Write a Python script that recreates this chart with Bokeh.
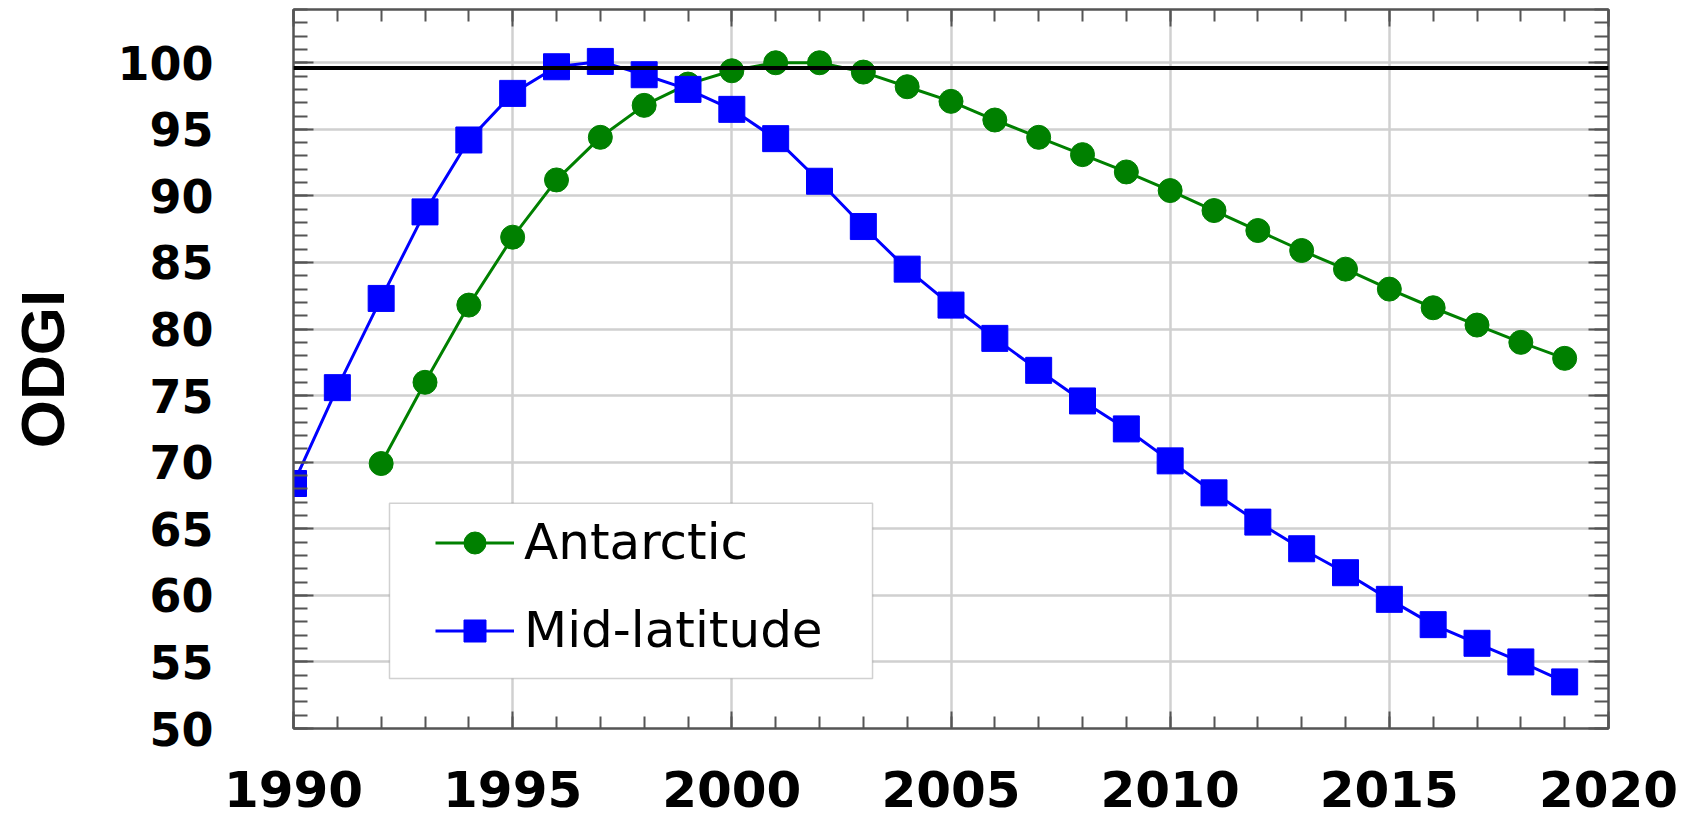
from bokeh.plotting import figure
from bokeh.models import (ColumnDataSource, Range1d, LinearAxis, SingleIntervalTicker,
                          Span, BoxAnnotation, Legend, LegendItem, Grid,
                          CustomJSTickFormatter)
from bokeh.embed import file_html
from bokeh.resources import INLINE

# ---------------- data ----------------
years_antarctic = list(range(1992, 2020))
odgi_antarctic = [69.9, 76.0, 81.8, 86.9, 91.2, 94.4, 96.8, 98.4, 99.4, 100.0,
                  100.0, 99.3, 98.2, 97.1, 95.7, 94.4, 93.1, 91.8, 90.4, 88.9,
                  87.4, 85.9, 84.5, 83.0, 81.6, 80.3, 79.0, 77.8]

years_midlat = list(range(1990, 2020))
odgi_midlat = [68.4, 75.6, 82.3, 88.8, 94.2, 97.7, 99.7, 100.1, 99.1, 98.0,
               96.5, 94.3, 91.1, 87.7, 84.5, 81.8, 79.3, 76.9, 74.6, 72.5,
               70.1, 67.7, 65.5, 63.5, 61.7, 59.7, 57.8, 56.4, 55.0, 53.5]

reference_level = 99.6
series_labels = ["Antarctic", "Mid-latitude"]
y_axis_title = "ODGI"

GREEN = "#008000"
BLUE = "#0000ff"
FRAME = "#555555"

# ---------------- figure ----------------
p = figure(width=1702, height=820, output_backend="svg", toolbar_location=None,
           x_range=Range1d(1990, 2020), y_range=Range1d(50, 104),
           x_axis_type=None, y_axis_type=None,
           min_border_left=293, min_border_right=94, min_border_top=9,
           min_border_bottom=92)
p.background_fill_color = "white"
p.border_fill_color = "white"
p.outline_line_color = FRAME
p.outline_line_width = 2

xt = SingleIntervalTicker(interval=5, num_minor_ticks=5)
yt = SingleIntervalTicker(interval=5, num_minor_ticks=5)


def style(ax, major_in, minor_in):
    ax.axis_line_color = FRAME
    ax.axis_line_width = 2
    ax.major_tick_line_color = FRAME
    ax.major_tick_line_width = 2
    ax.minor_tick_line_color = FRAME
    ax.minor_tick_line_width = 2
    ax.major_tick_in = major_in
    ax.major_tick_out = 0
    ax.minor_tick_in = minor_in
    ax.minor_tick_out = 0


xaxis = LinearAxis(ticker=xt, major_label_standoff=42,
                   major_label_text_font="DejaVu Sans",
                   major_label_text_font_style="bold",
                   major_label_text_font_size="50px",
                   major_label_text_color="black")
style(xaxis, 17, 12)
p.add_layout(xaxis, "below")

yaxis = LinearAxis(ticker=yt, major_label_standoff=80,
                   major_label_text_font="DejaVu Sans",
                   major_label_text_font_style="bold",
                   major_label_text_font_size="46px",
                   major_label_text_color="black",
                   axis_label=y_axis_title,
                   axis_label_standoff=37,
                   axis_label_text_font="Liberation Sans",
                   axis_label_text_font_style="bold",
                   axis_label_text_font_size="62px",
                   axis_label_text_color="black")
style(yaxis, 20, 14)
p.add_layout(yaxis, "left")

blank = CustomJSTickFormatter(code="return ''")
top_axis = LinearAxis(ticker=xt, formatter=blank, major_label_standoff=0,
                      major_label_text_font_size="0px")
style(top_axis, 17, 12)
p.add_layout(top_axis, "above")

right_axis = LinearAxis(ticker=yt, formatter=blank, major_label_standoff=0,
                        major_label_text_font_size="0px")
style(right_axis, 20, 14)
p.add_layout(right_axis, "right")

p.add_layout(Grid(dimension=0, ticker=xt, grid_line_color="#d0d0d0",
                  grid_line_width=2.5))
p.add_layout(Grid(dimension=1, ticker=yt, grid_line_color="#d0d0d0",
                  grid_line_width=2.5))

p.add_layout(Span(location=reference_level, dimension="width",
                  line_color="black", line_width=4))

src_a = ColumnDataSource(dict(year=years_antarctic, odgi=odgi_antarctic))
src_m = ColumnDataSource(dict(year=years_midlat, odgi=odgi_midlat))

la = p.line("year", "odgi", source=src_a, line_color=GREEN, line_width=3)
sa = p.scatter("year", "odgi", source=src_a, marker="circle", size=24,
               fill_color=GREEN, line_color=GREEN)
lm = p.line("year", "odgi", source=src_m, line_color=BLUE, line_width=3)
sm = p.scatter("year", "odgi", source=src_m, marker="square", size=26,
               fill_color=BLUE, line_color=BLUE)

# legend frame
box = BoxAnnotation(left=1992.19, right=2003.21, bottom=53.76, top=66.92,
                    fill_color="white", fill_alpha=1.0,
                    line_color="#666666", line_width=1.5)
p.add_layout(box)

legend = Legend(items=[LegendItem(label=series_labels[0], renderers=[la, sa]),
                       LegendItem(label=series_labels[1], renderers=[lm, sm])],
                location=(142, 69), orientation="vertical",
                padding=0, margin=0, spacing=30,
                glyph_width=79, glyph_height=55, label_height=30,
                label_standoff=10,
                label_text_font="DejaVu Sans", label_text_font_size="50px",
                label_text_color="black",
                border_line_alpha=0, background_fill_alpha=0)
p.add_layout(legend)

open("out.html", "w").write(file_html(p, INLINE))
